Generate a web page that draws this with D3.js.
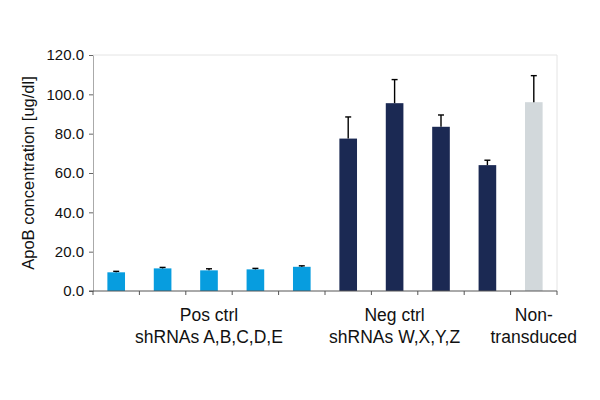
<!DOCTYPE html>
<html>
<head>
<meta charset="utf-8">
<script src="https://cdn.jsdelivr.net/npm/d3@7"></script>
<style>
  body { margin: 0; background: #fff; }
  svg { font-family: Arial, "Liberation Sans", sans-serif; }
</style>
</head>
<body>
<script>
const width = 600,
  height = 400,
  marginTop = 55,
  marginRight = 43,
  marginBottom = 109,
  marginLeft = 93;

// data
const categories = ["A", "B", "C", "D", "E", "W", "X", "Y", "Z", "Non"];
const values = [9.5, 11.5, 10.5, 11, 12.3, 77.5, 95.5, 83.5, 64, 96];
const errors = [0.5, 0.5, 0.8, 0.5, 0.5, 11, 12, 6, 2.5, 13.5];
const kinds = ["pos", "pos", "pos", "pos", "pos", "neg", "neg", "neg", "neg", "none"];
const yTicks = [0, 20, 40, 60, 80, 100, 120];
const groupLabels = [
  { at: "C", lines: ["Pos ctrl", "shRNAs A,B,C,D,E"] },
  { at: "X", lines: ["Neg ctrl", "shRNAs W,X,Y,Z"] },
  { at: "Non", lines: ["Non-", "transduced"] },
];

const colors = { pos: "#079ddf", neg: "#1b2953", none: "#d2d8db" };

const x = d3.scaleBand()
  .domain(categories)
  .range([marginLeft, width - marginRight])
  .padding(0);
const y = d3.scaleLinear()
  .domain([0, 120])
  .range([height - marginBottom, marginTop]);

const svg = d3.select("body").append("svg")
  .attr("width", width)
  .attr("height", height);

// light plot border (top + right)
svg.append("path")
  .attr("d", `M${marginLeft},${marginTop}H${width - marginRight}V${height - marginBottom}`)
  .attr("fill", "none")
  .attr("stroke", "#e4e4e4");

// y axis
const yAxis = svg.append("g")
  .attr("transform", `translate(${marginLeft},0)`)
  .call(d3.axisLeft(y).tickValues(yTicks).tickFormat(d3.format(".1f")).tickSize(4).tickSizeOuter(0));
yAxis.select(".domain").attr("stroke", "#aaa");
yAxis.selectAll(".tick line").attr("stroke", "#666");
yAxis.selectAll(".tick text")
  .attr("x", -9)
  .attr("font-size", 15)
  .attr("fill", "#111")
  .attr("font-family", "Arial, 'Liberation Sans', sans-serif");

// bars
const bw = x.step() * 0.38;
svg.append("g").selectAll("rect")
  .data(values)
  .join("rect")
  .attr("x", (d, i) => x(categories[i]) + (x.bandwidth() - bw) / 2)
  .attr("y", d => y(d))
  .attr("width", bw)
  .attr("height", d => y(0) - y(d))
  .attr("fill", (d, i) => colors[kinds[i]]);

// error bars (upper only)
const eb = svg.append("g").attr("stroke", "#000").attr("stroke-width", 1.4);
values.forEach((v, i) => {
  const cx = x(categories[i]) + x.bandwidth() / 2;
  eb.append("line")
    .attr("x1", cx).attr("x2", cx)
    .attr("y1", y(v)).attr("y2", y(v + errors[i]));
  eb.append("line")
    .attr("x1", cx - 3).attr("x2", cx + 3)
    .attr("y1", y(v + errors[i])).attr("y2", y(v + errors[i]));
});

// x axis
const xg = svg.append("g").attr("stroke", "#555");
xg.append("line")
  .attr("x1", marginLeft - 4).attr("x2", width - marginRight)
  .attr("y1", y(0)).attr("y2", y(0));
const boundaries = categories.map(c => x(c)).concat([x(categories[categories.length - 1]) + x.step()]);
xg.selectAll(".xt")
  .data(boundaries)
  .join("line")
  .attr("class", "xt")
  .attr("x1", d => d).attr("x2", d => d)
  .attr("y1", y(0)).attr("y2", y(0) + 4);

// category group labels
const lbl = svg.append("g")
  .attr("font-size", 17.5)
  .attr("fill", "#111")
  .attr("text-anchor", "middle");
groupLabels.forEach(g => {
  const cx = x(g.at) + x.bandwidth() / 2;
  g.lines.forEach((t, j) => {
    lbl.append("text")
      .attr("x", cx)
      .attr("y", 321 + j * 22)
      .text(t);
  });
});

// y title
svg.append("text")
  .attr("transform", `translate(34,${(marginTop + height - marginBottom) / 2}) rotate(-90)`)
  .attr("text-anchor", "middle")
  .attr("font-size", 16.5)
  .attr("fill", "#111")
  .text("ApoB concentration [ug/dl]");
</script>
</body>
</html>
